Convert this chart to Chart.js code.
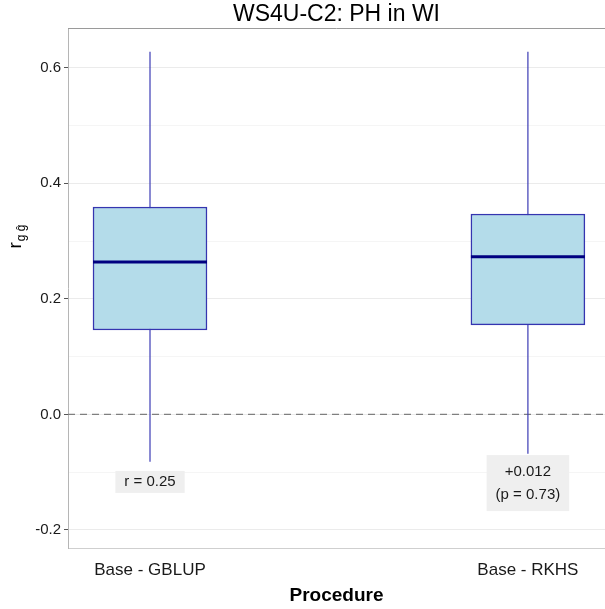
<!DOCTYPE html>
<html>
<head>
<meta charset="utf-8">
<script src="https://cdn.jsdelivr.net/npm/chart.js@4.4.1/dist/chart.umd.min.js"></script>
<style>
  html, body { margin: 0; padding: 0; background: #fff; }
  #wrap { width: 605px; height: 609px; }
</style>
</head>
<body>
<div id="wrap"><canvas id="myChart"></canvas></div>
<script>
const procedures = ["Base - GBLUP", "Base - RKHS"]
const xPos = [1, 2]
const whiskLow = [-0.082, -0.068]
const q1 = [0.146, 0.155]
const medians = [0.264, 0.273]
const q3 = [0.359, 0.347]
const whiskHigh = [0.628, 0.628]
const yTicks = [-0.2, -0.1, 0, 0.1, 0.2, 0.3, 0.4, 0.5, 0.6]
const labelText = [["r = 0.25"], ["+0.012", "(p = 0.73)"]]
const labelY = [-0.117, -0.119]

const FONT = "'Liberation Sans', Arial, sans-serif"
const isMajor = v => Math.round(v * 10) % 2 === 0

const extras = {
    id: 'extras',
    beforeDatasetsDraw(chart) {
        const {ctx, chartArea, scales: {y}} = chart
        ctx.save()
        // top panel border
        ctx.strokeStyle = '#9a9a9a'
        ctx.lineWidth = 1
        ctx.beginPath()
        ctx.moveTo(chartArea.left, chartArea.top + 0.5)
        ctx.lineTo(chartArea.right, chartArea.top + 0.5)
        ctx.stroke()
        // dashed zero line
        const y0 = y.getPixelForValue(0)
        ctx.strokeStyle = '#7f7f7f'
        ctx.lineWidth = 1.4
        ctx.setLineDash([7, 5])
        ctx.beginPath()
        ctx.moveTo(chartArea.left, y0)
        ctx.lineTo(chartArea.right, y0)
        ctx.stroke()
        ctx.restore()
    },
    afterDatasetsDraw(chart) {
        const {ctx, scales: {x, y}} = chart
        const bars = chart.getDatasetMeta(0).data
        ctx.save()
        // medians
        ctx.strokeStyle = '#000080'
        ctx.lineWidth = 3
        bars.forEach((bar, i) => {
            const ym = y.getPixelForValue(medians[i])
            ctx.beginPath()
            ctx.moveTo(bar.x - bar.width / 2, ym)
            ctx.lineTo(bar.x + bar.width / 2, ym)
            ctx.stroke()
        })
        // labels under the boxes
        ctx.font = "15px " + FONT
        ctx.textAlign = 'center'
        ctx.textBaseline = 'middle'
        labelText.forEach((lines, i) => {
            const cx = x.getPixelForValue(xPos[i])
            const cy = y.getPixelForValue(labelY[i])
            const w = Math.max(...lines.map(t => ctx.measureText(t).width)) + 18
            const h = lines.length === 1 ? 22 : 56
            ctx.fillStyle = '#efefef'
            ctx.fillRect(cx - w / 2, cy - h / 2, w, h)
            ctx.fillStyle = '#1a1a1a'
            lines.forEach((t, j) => {
                ctx.fillText(t, cx, cy + (j - (lines.length - 1) / 2) * 23)
            })
        })
        ctx.restore()
    },
    afterDraw(chart) {
        const {ctx, chartArea} = chart
        ctx.save()
        ctx.fillStyle = '#000'
        ctx.font = "23px " + FONT
        ctx.textAlign = 'center'
        ctx.textBaseline = 'middle'
        ctx.fillText('WS4U-C2: PH in WI', (chartArea.left + chartArea.right) / 2, 15)
        // y axis title r_{g ĝ}
        ctx.translate(21, 237)
        ctx.rotate(-Math.PI / 2)
        ctx.textAlign = 'left'
        ctx.textBaseline = 'alphabetic'
        ctx.font = "19px " + FONT
        const wr = ctx.measureText('r').width
        ctx.font = "12px " + FONT
        const ws = ctx.measureText('g ĝ').width
        const start = -(wr + ws) / 2
        ctx.font = "19px " + FONT
        ctx.fillText('r', start, 0)
        ctx.font = "12px " + FONT
        ctx.fillText('g ĝ', start + wr + 1, 4)
        ctx.restore()
    }
}

const boxData = {
    type: 'bar',
    data: xPos.map((x, i) => ({x: x, y: [q1[i], q3[i]]})),
    backgroundColor: '#b4dcea',
    borderColor: '#3535b0',
    borderWidth: 1.5,
    borderSkipped: false,
    barThickness: 114,
    order: 1
}

const whiskers = xPos.map((x, i) => ({
    type: 'line',
    data: [{x: x, y: whiskLow[i]}, {x: x, y: whiskHigh[i]}],
    borderColor: '#3b3bb5',
    borderWidth: 1.2,
    pointRadius: 0,
    order: 2
}))

const ctx = document.querySelector("#myChart").getContext("2d")

new Chart(ctx, {
    type: 'bar',
    data: {
        datasets: [boxData, ...whiskers]
    },
    options: {
        responsive: true,
        maintainAspectRatio: false,
        animation: false,
        layout: { padding: { top: 28, left: 0, right: 0, bottom: 0 } },
        plugins: {
            legend: { display: false },
            tooltip: { enabled: false },
            title: { display: false }
        },
        scales: {
            x: {
                type: 'linear',
                offset: false,
                min: 0.783,
                max: 2.204,
                afterBuildTicks: s => { s.ticks = xPos.map(v => ({value: v})) },
                afterFit: s => { s.height = 61 },
                ticks: {
                    callback: v => procedures[xPos.indexOf(v)] || '',
                    font: { family: FONT, size: 17 },
                    color: '#1a1a1a',
                    padding: 12,
                    maxRotation: 0,
                    autoSkip: false
                },
                grid: { display: false, drawTicks: false, offset: false },
                border: { display: true, color: '#cfcfcf', width: 1 },
                title: {
                    display: true,
                    text: 'Procedure',
                    font: { family: FONT, size: 19, weight: 'bold' },
                    color: '#000',
                    padding: { top: 0, bottom: 2 }
                }
            },
            y: {
                type: 'linear',
                min: -0.2314,
                max: 0.669,
                afterBuildTicks: s => { s.ticks = yTicks.map(v => ({value: v})) },
                afterFit: s => { s.width = 68 },
                ticks: {
                    callback: v => isMajor(v) ? v.toFixed(1) : '',
                    font: { family: FONT, size: 15 },
                    color: '#1a1a1a',
                    padding: 3
                },
                grid: {
                    color: c => isMajor(c.tick.value) ? '#ebebeb' : '#f5f5f5',
                    tickColor: c => isMajor(c.tick.value) ? '#555' : 'rgba(0,0,0,0)',
                    tickLength: 4
                },
                border: { display: true, color: '#b5b5b5', width: 1 }
            }
        }
    },
    plugins: [extras]
})
</script>
</body>
</html>
